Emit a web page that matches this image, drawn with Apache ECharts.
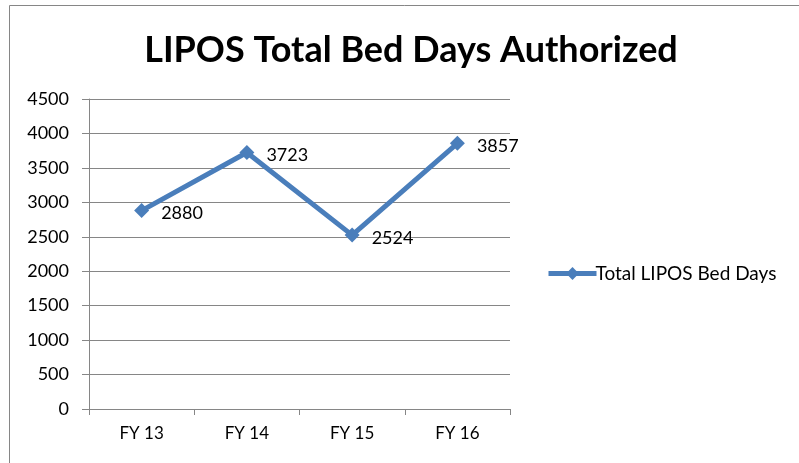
<!DOCTYPE html>
<html>
<head>
<meta charset="utf-8">
<script src="https://cdn.jsdelivr.net/npm/echarts@6/dist/echarts.min.js"></script>
<style>
  html, body { margin: 0; padding: 0; background: #fff; }
  #main { width: 799px; height: 463px; }
</style>
</head>
<body>
<div id="main"></div>
<script>
// data
var categories = ['FY 13', 'FY 14', 'FY 15', 'FY 16'];
var bedDays = [2880, 3723, 2524, 3857];
var seriesName = 'Total LIPOS Bed Days';

var font = 'Lato, "Open Sans", sans-serif';
var myChart = echarts.init(document.getElementById('main'));

var option = {
  backgroundColor: '#fff',
  animation: false,
  title: {
    text: 'LIPOS Total Bed Days Authorized',
    left: 406,
    textAlign: 'center',
    top: 27,
    textStyle: { fontFamily: font, fontSize: 36, fontWeight: 'bold', color: '#000' }
  },
  graphic: [{
    type: 'rect',
    shape: { x: 9.5, y: 5.5, width: 820, height: 500 },
    style: { fill: 'none', stroke: '#868686', lineWidth: 1 },
    silent: true
  }],
  legend: {
    data: [seriesName],
    orient: 'vertical',
    left: 541,
    top: 259,
    itemWidth: 48,
    itemHeight: 16,
    itemGap: 4,
    lineStyle: { width: 5 },
    textStyle: { fontFamily: font, fontSize: 19, color: '#000', padding: [0, 0, 0, -6] }
  },
  grid: { left: 89, right: 289, top: 99, bottom: 54 },
  xAxis: {
    type: 'category',
    data: categories,
    boundaryGap: true,
    axisLine: { lineStyle: { color: '#868686' } },
    axisTick: { show: true, length: 6, lineStyle: { color: '#868686' } },
    axisLabel: { fontFamily: font, fontSize: 17, color: '#000', margin: 16 }
  },
  yAxis: {
    type: 'value',
    min: 0,
    max: 4500,
    interval: 500,
    axisLine: { show: true, lineStyle: { color: '#868686' } },
    axisTick: { show: true, length: 7, lineStyle: { color: '#868686' } },
    axisLabel: {
      fontFamily: font, fontSize: 18, color: '#000', margin: 20,
      formatter: function (v) { return String(v); }
    },
    splitLine: { lineStyle: { color: '#868686' } }
  },
  series: [{
    name: seriesName,
    type: 'line',
    data: bedDays,
    symbol: 'diamond',
    symbolSize: 15,
    itemStyle: { color: '#4A7EBB' },
    lineStyle: { color: '#4A7EBB', width: 5 },
    label: {
      show: true,
      position: 'right',
      distance: 12,
      fontFamily: font,
      fontSize: 18,
      color: '#000',
      offset: [0, 3]
    }
  }]
};

myChart.setOption(option);
</script>
</body>
</html>
